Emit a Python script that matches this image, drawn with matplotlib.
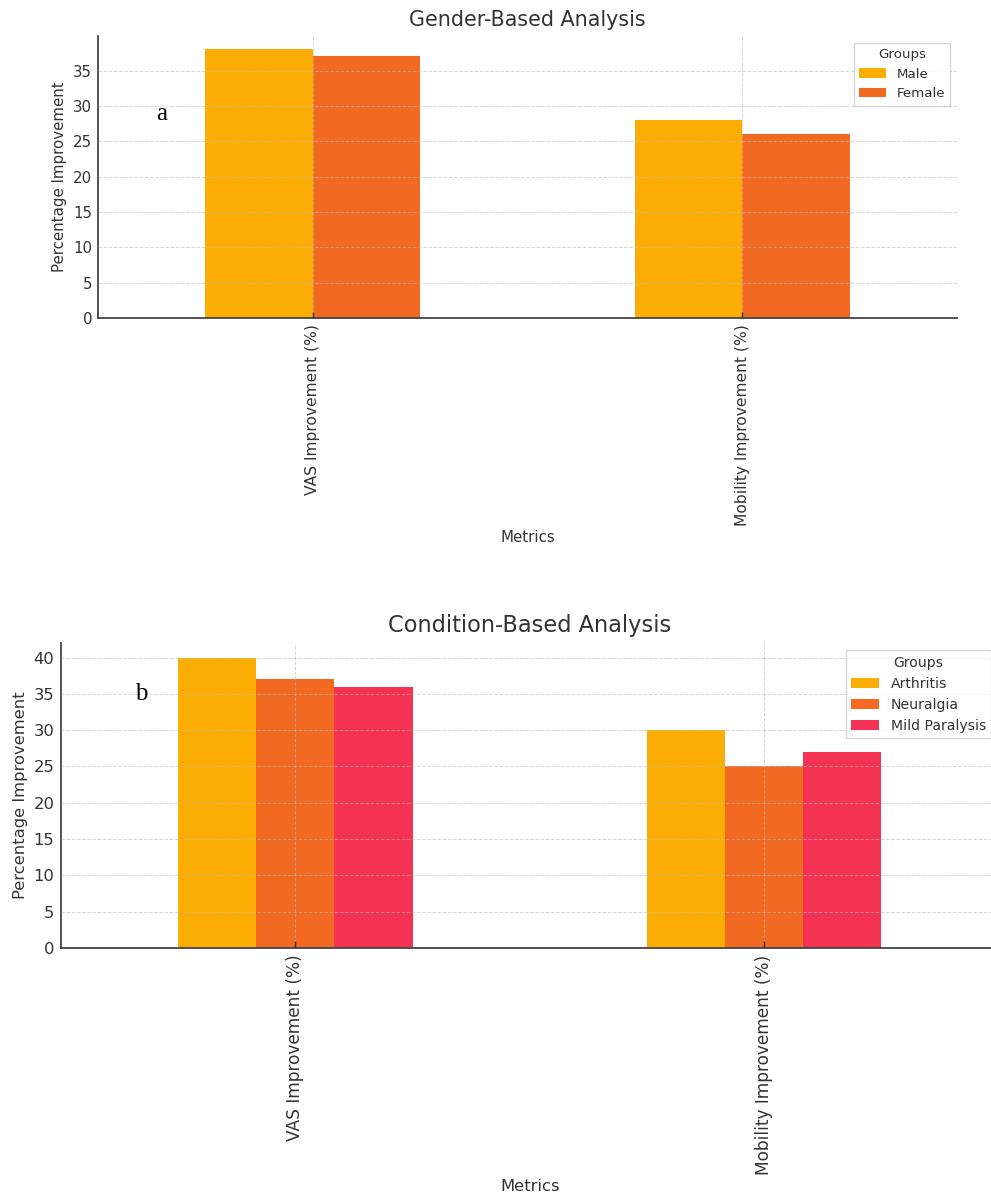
import matplotlib
matplotlib.use("Agg")
import matplotlib.pyplot as plt
import numpy as np

# data
metrics = ["VAS Improvement (%)", "Mobility Improvement (%)"]
gender_groups = ["Male", "Female"]
gender_values = [[38, 28], [37, 26]]
condition_groups = ["Arthritis", "Neuralgia", "Mild Paralysis"]
condition_values = [[40, 30], [37, 25], [36, 27]]
colors = ["#FCAD03", "#F26922", "#F43254"]

W, H = 991, 1199
fig = plt.figure(figsize=(W / 100, H / 100), dpi=100)
text_color = "#333333"


def grouped_bars(ax, groups, values, scale, legend_scale, title, tag, tag_xy):
    n = len(groups)
    x = np.arange(len(metrics))
    width = 0.5 / n
    for i, (g, vals) in enumerate(zip(groups, values)):
        offset = (i - (n - 1) / 2) * width
        ax.bar(x + offset, vals, width, label=g, color=colors[i], zorder=1)
    ax.set_xlim(-0.5, len(metrics) - 0.5)
    ymax = max(max(v) for v in values)
    ax.set_ylim(0, ymax * 1.05)
    ax.set_yticks(np.arange(0, ymax + 1, 5))
    ax.set_xticks(x)
    ax.set_xticklabels(metrics, rotation=90, fontsize=10.35 * scale, color=text_color)
    ax.tick_params(axis="y", labelsize=10 * scale, labelcolor=text_color,
                   length=0, pad=4 * scale)
    ax.tick_params(axis="x", direction="in", length=4 * scale, width=1,
                   color="#333333", pad=4 * scale)
    ax.grid(True, linestyle="--", color="#bbbbbb", linewidth=0.7, alpha=0.6, zorder=3)
    ax.set_axisbelow(False)
    for s in ["top", "right"]:
        ax.spines[s].set_visible(False)
    for s in ["left", "bottom"]:
        ax.spines[s].set_color("#444444")
        ax.spines[s].set_linewidth(1.3)
    ax.set_title(title, fontsize=13.75 * scale, color=text_color, pad=7 * scale)
    ax.set_xlabel("Metrics", fontsize=10 * scale, color=text_color, labelpad=2.8 * scale)
    ax.set_ylabel("Percentage Improvement", fontsize=10 * scale, color=text_color)
    leg = ax.legend(title="Groups", loc="upper right", fontsize=9 * legend_scale,
                    title_fontsize=9 * legend_scale, frameon=True, fancybox=False)
    leg.get_frame().set_edgecolor("#cccccc")
    for t in leg.get_texts():
        t.set_color(text_color)
    leg.get_title().set_color(text_color)
    fig.text(tag_xy[0] / W, 1 - tag_xy[1] / H, tag, fontsize=18,
             family="Liberation Serif", ha="center", va="center", color="black")


# top panel: Gender-Based Analysis
ax1 = fig.add_axes([98 / W, 1 - 318 / H, (957 - 98) / W, (318 - 36) / H])
grouped_bars(ax1, gender_groups, gender_values, 1.08, 1.07,
             "Gender-Based Analysis", "a", (162, 114))

# bottom panel: Condition-Based Analysis (cropped at the right edge)
ax2 = fig.add_axes([61 / W, 1 - 948 / H, (998.5 - 61) / W, (948 - 643) / H])
grouped_bars(ax2, condition_groups, condition_values, 1.18, 1.12,
             "Condition-Based Analysis", "b", (141, 694))

fig.savefig("out.png", dpi=100)
